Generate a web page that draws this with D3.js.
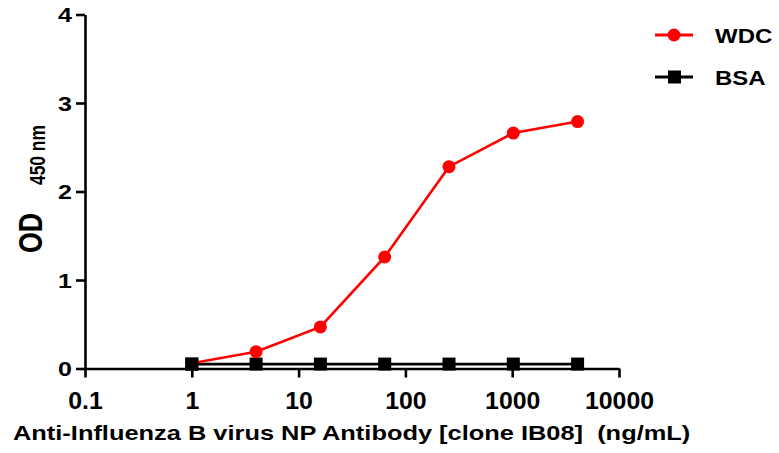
<!DOCTYPE html>
<html>
<head>
<meta charset="utf-8">
<script src="https://cdn.jsdelivr.net/npm/d3@7"></script>
<style>
  html, body { margin: 0; padding: 0; background: #fff; }
  svg { display: block; font-family: "Liberation Sans", Arial, sans-serif; font-weight: bold; }
</style>
</head>
<body>
<svg id="chart" width="779" height="453"></svg>
<script>
// ---- data ----
const concentrations = [1, 4, 16, 64, 256, 1024, 4096];   // ng/mL
const wdcValues = [0.06, 0.19, 0.47, 1.26, 2.28, 2.66, 2.79];
const bsaValues = [0.05, 0.05, 0.05, 0.05, 0.05, 0.05, 0.05];
const xTickValues = [0.1, 1, 10, 100, 1000, 10000];
const xTickLabels = ["0.1", "1", "10", "100", "1000", "10000"];
const yTickValues = [0, 1, 2, 3, 4];
const seriesNames = ["WDC", "BSA"];
const seriesColors = ["#ff0000", "#000000"];

const svg = d3.select("#chart");

const x = d3.scaleLog().domain([0.1, 10000]).range([85, 619]);
const y = d3.scaleLinear().domain([0, 4]).range([368.5, 14.5]);

// ---- axes ----
const xAxis = d3.axisBottom(x)
  .tickValues(xTickValues)
  .tickFormat((d, i) => xTickLabels[i])
  .tickSize(9).tickSizeOuter(0);
const yAxis = d3.axisLeft(y)
  .tickValues(yTickValues)
  .tickFormat(d3.format("d"))
  .tickSize(9).tickSizeOuter(0);

const gx = svg.append("g").attr("transform", `translate(0,${y(0)})`).call(xAxis);
const gy = svg.append("g").attr("transform", `translate(${x(0.1)},0)`).call(yAxis);

[gx, gy].forEach(g => {
  g.select(".domain").attr("stroke", "#000").attr("stroke-width", 2.6);
  g.selectAll(".tick line").attr("stroke", "#000").attr("stroke-width", 2.6);
  g.selectAll(".tick text").attr("fill", "#000").attr("font-family", null);
});
gx.selectAll(".tick text")
  .attr("font-size", 23).attr("y", 0).attr("dy", 0)
  .attr("transform", "translate(0,40.5) scale(1.08,1)");
gy.selectAll(".tick text")
  .attr("font-size", 20).attr("x", 0).attr("dy", "0.36em")
  .attr("transform", "translate(-13,0) scale(1.25,1)");

// ---- axis titles ----
svg.append("text")
  .attr("transform", "translate(13,440) scale(1.21,1)")
  .attr("font-size", 21).attr("fill", "#000")
  .text("Anti-Influenza B virus NP Antibody [clone IB08]\u00a0\u00a0(ng/mL)");

svg.append("text")
  .attr("transform", "translate(42,253) rotate(-90) scale(1,1.22)")
  .attr("font-size", 26.7).attr("fill", "#000")
  .text("OD");
svg.append("text")
  .attr("transform", "translate(45,185) rotate(-90) scale(1,1.22)")
  .attr("font-size", 17.4).attr("fill", "#000")
  .text("450 nm");

// ---- series ----
const line = d3.line().x(d => x(d[0])).y(d => y(d[1]));
const wdc = concentrations.map((c, i) => [c, wdcValues[i]]);
const bsa = concentrations.map((c, i) => [c, bsaValues[i]]);

svg.append("path").datum(bsa).attr("d", line)
  .attr("fill", "none").attr("stroke", seriesColors[1]).attr("stroke-width", 2.6);
svg.append("g").selectAll("rect").data(bsa).join("rect")
  .attr("x", d => x(d[0]) - 6.5).attr("y", d => y(d[1]) - 6.5)
  .attr("width", 13).attr("height", 13).attr("fill", seriesColors[1]);

svg.append("path").datum(wdc).attr("d", line)
  .attr("fill", "none").attr("stroke", seriesColors[0]).attr("stroke-width", 2.6);
svg.append("g").selectAll("circle").data(wdc.slice(1)).join("circle")
  .attr("cx", d => x(d[0])).attr("cy", d => y(d[1])).attr("r", 6.5)
  .attr("fill", seriesColors[0]);
// first BSA square drawn over the hidden first WDC point
svg.append("rect")
  .attr("x", x(bsa[0][0]) - 6.5).attr("y", y(bsa[0][1]) - 6.5)
  .attr("width", 13).attr("height", 13).attr("fill", seriesColors[1]);

// ---- legend ----
const legendY = [35, 77];
seriesNames.forEach((name, i) => {
  const g = svg.append("g");
  g.append("line").attr("x1", 655).attr("x2", 693)
    .attr("y1", legendY[i]).attr("y2", legendY[i])
    .attr("stroke", seriesColors[i]).attr("stroke-width", 2.8);
  if (i === 0) {
    g.append("circle").attr("cx", 674).attr("cy", legendY[i]).attr("r", 6.5).attr("fill", seriesColors[i]);
  } else {
    g.append("rect").attr("x", 668).attr("y", legendY[i] - 6.5).attr("width", 13).attr("height", 13).attr("fill", seriesColors[i]);
  }
  g.append("text")
    .attr("transform", `translate(715,${legendY[i] + 8}) scale(1.2,1)`)
    .attr("font-size", 20).attr("fill", "#000")
    .text(name);
});
</script>
</body>
</html>
